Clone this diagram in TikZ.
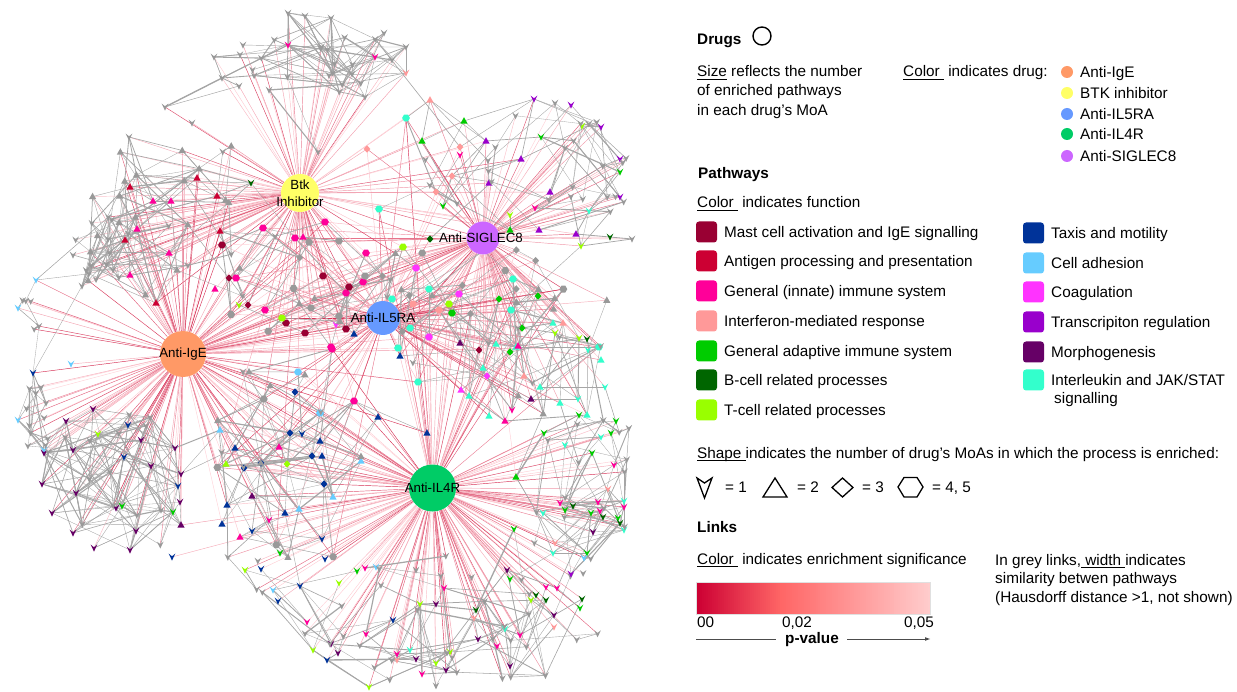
\documentclass[tikz,border=0pt]{standalone}
\usepackage{fontspec}
\setmainfont{Liberation Sans}
\definecolor{mst}{HTML}{990033}
\definecolor{ant}{HTML}{CC0033}
\definecolor{inn}{HTML}{FF0099}
\definecolor{ifn}{HTML}{FF9999}
\definecolor{adp}{HTML}{00CC00}
\definecolor{bce}{HTML}{006600}
\definecolor{tce}{HTML}{99FF00}
\definecolor{tax}{HTML}{003399}
\definecolor{adh}{HTML}{66CCFF}
\definecolor{coa}{HTML}{FF33FF}
\definecolor{trn}{HTML}{9900CC}
\definecolor{mor}{HTML}{660066}
\definecolor{il}{HTML}{33FFCC}
\definecolor{gry}{HTML}{999999}
\definecolor{cIgE}{HTML}{FF9966}
\definecolor{cBtk}{HTML}{FFFF66}
\definecolor{cIL5}{HTML}{6699FF}
\definecolor{cIL4}{HTML}{00CC66}
\definecolor{cSIG}{HTML}{CC66FF}
\definecolor{lkd}{HTML}{D42A50}
\definecolor{lkl}{HTML}{FFD2D8}
\definecolor{gbar}{HTML}{CC0033}
\definecolor{gmid}{HTML}{FF6666}
\definecolor{glight}{HTML}{FFCCCC}
\definecolor{glink}{HTML}{A6A6A6}
\newcount\pcount
\def\kv{1}\def\kt{2}\def\kd{3}\def\kh{4}
\newcommand\ul[1]{\setbox0=\hbox{#1}\rlap{\rule[-2.6pt]{\wd0}{0.75pt}}\box0\relax}
\newcommand\addpath[5]{%
  \global\advance\pcount by 1\relax
  \node[pnode] (#1\the\pcount) at (#2,#3) {};%
  \expandafter\xdef\csname k@#1\the\pcount\endcsname{\csname k#4\endcsname}%
  \expandafter\xdef\csname s@#1\the\pcount\endcsname{#4}%
  \expandafter\xdef\csname c@#1\the\pcount\endcsname{#5}}
\newcommand\addlist[2]{%
  \foreach \px/\py/\psh/\pco in {#2}{\edef\tmp{\noexpand\addpath{#1}{\px}{\py}{\psh}{\pco}}\tmp}}
\newcommand\addgreys[7]{%
  \foreach \g in {1,...,#2}{%
    \pgfmathsetmacro\gx{#3+(#4-#3)*rnd}%
    \pgfmathsetmacro\gy{#5+(#6-#5)*rnd}%
    \pgfmathrandomitem{\gs}{#7}%
    \edef\tmp{\noexpand\addpath{#1}{\gx}{\gy}{\gs}{gry}}\tmp}}
\newcommand\opencl{\global\pcount=0\relax}
\newcommand\closecl[1]{\expandafter\xdef\csname n@#1\endcsname{\the\pcount}}
\newcommand\redlinks[2]{%
  \edef\nn{\csname n@#1\endcsname}%
  \foreach \i in {1,...,\nn}{%
    \edef\kk{\csname k@#1\i\endcsname}%
    \foreach \dr [count=\m] in {#2}{%
      \ifnum\m>\kk\relax\else
        \pgfmathtruncatemacro\pp{100*rnd^1.5}%
        \draw[redlink,draw=lkd!\pp!lkl] (\dr) -- (#1\i);%
      \fi}}}
\newcommand\greylinks[4]{%
  \edef\na{\csname n@#1\endcsname}\edef\nb{\csname n@#2\endcsname}%
  \foreach \e in {1,...,#3}{%
    \pgfmathtruncatemacro\ra{random(1,\na)}%
    \pgfmathtruncatemacro\rb{random(1,\nb)}%
    \pgfpointdiff{\pgfpointanchor{#1\ra}{center}}{\pgfpointanchor{#2\rb}{center}}%
    \pgfgetlastxy{\dx}{\dy}%
    \pgfmathsetmacro\dd{veclen(\dx,\dy)}%
    \ifdim\dd pt<#4pt\relax\ifdim\dd pt>2pt\relax
      \pgfmathsetmacro\ww{0.3+1.1*rnd*rnd}%
      \draw[greylink,line width=\ww pt] (#1\ra) -- (#2\rb);%
    \fi\fi}}
\newcommand\drawsyms[1]{%
  \edef\nn{\csname n@#1\endcsname}%
  \foreach \i in {1,...,\nn}{%
    \edef\tmp{\noexpand\pic at (#1\i) {s\csname s@#1\i\endcsname=\csname c@#1\i\endcsname};}\tmp}}
\pgfmathdeclarerandomlist{vonly}{{v}}
\pgfmathdeclarerandomlist{tv}{{t}{t}{v}}
\pgfmathdeclarerandomlist{mix}{{h}{d}{t}{v}}
\pgfmathdeclarerandomlist{mixb}{{t}{v}{v}{h}}
\begin{document}
\begin{tikzpicture}[x=1pt,y=-1pt,
  pnode/.style={circle,inner sep=0pt,outer sep=0pt,minimum size=0pt},
  redlink/.style={line width=0.45pt},
  greylink/.style={draw=glink},
  drug/.style={circle,draw=none,inner sep=0pt},
  dlabel/.style={font=\fontsize{13.3}{16.5}\selectfont,inner sep=0pt,align=center},
  leg/.style={anchor=base west,inner sep=0pt,font=\fontsize{15.3}{19}\selectfont},
  legc/.style={leg,anchor=base},
  sq/.style={draw=none,minimum size=21pt,inner sep=0pt,rounded corners=3pt},
  dot/.style={circle,draw=none,minimum size=12pt,inner sep=0pt},
  lshape/.style={line width=1.3pt,line join=miter},
  pics/sv/.style={code={\fill[#1] (-3.3,-3.3) -- (0,-0.8) -- (3.3,-3.3) -- (0,3.6) -- cycle;}},
  pics/st/.style={code={\fill[#1] (0,-3.8) -- (3.6,2.6) -- (-3.6,2.6) -- cycle;}},
  pics/sd/.style={code={\fill[#1] (0,-3.7) -- (3.4,0) -- (0,3.7) -- (-3.4,0) -- cycle;}},
  pics/sh/.style={code={\fill[#1] (-3.9,0) -- (-1.95,-3.4) -- (1.95,-3.4) -- (3.9,0) -- (1.95,3.4) -- (-1.95,3.4) -- cycle;}}]
\useasboundingbox (0,0) rectangle (1237,692);
\pgfmathsetseed{11}
% ---------------- drug anchors ----------------
\node[drug,minimum size=46pt] (IgE) at (183,354) {};
\node[drug,minimum size=38pt] (Btk) at (300,193) {};
\node[drug,minimum size=34pt] (IL5) at (383,318) {};
\node[drug,minimum size=47pt] (IL4) at (432.5,488) {};
\node[drug,minimum size=33pt] (SIG) at (483,238) {};
% ---------------- pathway clusters ----------------
\opencl
\addlist{A}{288/13/v/gry,305/16/v/gry,331/18/v/gry,384/33/v/gry,406/47/v/gry,214/57/v/gry,222/78/v/gry,239/86/v/gry,269/90/v/gry,365/97/v/gry,392/60/v/gry,288/45/v/inn,375/57/v/inn,406/73/v/ifn,165/107/v/gry,192/123/v/gry,318/152/v/gry}
\addgreys{A}{20}{232}{395}{35}{95}{vonly}
\closecl{A}
\opencl
\addlist{B}{130/187/t/ant,197/178/t/ant,217/196/t/ant,220/231/t/ant,125/240/t/ant,156/303/t/ant,153/201/t/inn,171/201/t/inn,137/229/t/inn,169/253/t/inn,130/275/t/inn,215/289/t/inn,251/183/v/bce,129/137/v/gry,73/255/v/gry,82/286/v/gry}
\addgreys{B}{30}{88}{245}{145}{300}{tv}
\addgreys{B}{8}{75}{120}{200}{300}{vonly}
\closecl{B}
\opencl
\addlist{C}{367/149/d/ifn,460/147/d/ifn,452/176/d/ifn,436/192/d/ifn,430/100/t/ifn,406/118/h/il,379/209/h/il,464/121/t/adp,422/141/t/adp,510/230/t/adp,486/141/t/trn,521/159/t/trn,489/183/t/trn,550/192/t/trn,539/230/t/trn,576/234/t/trn,534/99/v/trn,571/105/v/trn,601/127/v/trn,620/159/v/trn,620/197/v/trn,541/137/v/adp,620/172/v/adp,443/206/v/adp,582/126/v/tce,510/215/v/tce,581/246/v/tce,589/211/v/il,460/155/v/inn,535/208/v/inn,610/237/v/bce,430/239/d/bce,632/239/v/gry,555/103/v/gry}
\addgreys{C}{16}{545}{630}{110}{235}{vonly}
\addgreys{C}{8}{420}{540}{100}{225}{vonly}
\closecl{C}
\opencl
\addlist{D}{263/228/h/inn,325/222/h/inn,295/238/h/inn,366/253/h/inn,363/282/h/inn,346/293/h/inn,236/278/h/inn,265/310/h/inn,331/347/h/inn,222/245/h/mst,229/278/d/mst,248/305/d/mst,323/276/h/mst,349/287/h/mst,286/323/h/mst,305/333/h/mst,346/329/h/mst,339/241/h/gry,365/276/h/gry,311/308/h/gry,339/316/h/gry,282/318/h/tce,403/247/h/tce,239/305/v/tce,336/325/v/coa,354/334/t/tax,303/237/t/inn}
\addgreys{D}{14}{230}{400}{225}{345}{mix}
\closecl{D}
\opencl
\addlist{E}{392/299/h/il,429/289/h/il,410/328/h/il,513/279/h/il,511/310/h/il,599/347/h/il,398/348/h/il,418/382/h/il,499/299/d/adp,538/296/d/adp,522/328/d/adp,510/352/d/adp,452/313/h/adp,449/304/h/tce,416/268/h/coa,459/294/h/coa,429/337/h/coa,487/376/d/coa,461/390/t/coa,413/304/h/ifn,439/310/h/ifn,579/338/v/tce,555/333/v/tce,587/339/v/bce,516/347/t/il,553/323/t/il,496/344/t/il,483/368/t/il,469/396/t/il,540/387/t/il,489/416/t/il,587/415/t/il,601/360/t/il,560/403/t/il,563/323/t/ifn,524/376/t/ifn,460/343/t/mor,531/399/t/mor,479/350/d/mst,518/346/t/inn,505/421/t/inn,512/410/v/inn,400/356/t/tax,588/350/v/il,605/387/v/il,578/399/v/il}
\addgreys{E}{26}{400}{610}{250}{425}{mix}
\closecl{E}
\opencl
\addlist{F}{18/420/v/adh,44/450/v/adh,71/364/v/adh,36/280/v/adh,18/308/v/adh,33/373/v/tax}
\addgreys{F}{16}{20}{48}{300}{450}{vonly}
\closecl{F}
\opencl
\addlist{G}{93/409/v/mor,66/421/v/mor,141/440/v/mor,175/448/v/mor,44/453/v/mor,73/450/v/mor,151/466/v/mor,42/484/v/mor,76/493/v/mor,52/513/v/mor,116/508/v/mor,73/533/v/mor,94/548/v/mor,130/550/v/mor,136/531/v/mor,181/474/v/mor,180/502/v/mor,181/525/t/mor,128/425/v/tax,124/457/v/tax,178/486/v/tax,98/434/v/tce,122/506/v/adp,173/512/v/adp}
\addgreys{G}{14}{45}{180}{410}{545}{vonly}
\closecl{G}
\opencl
\addlist{H}{220/430/t/adh,361/461/t/adh,333/497/t/adh,299/509/t/adh,235/448/t/tax,320/441/t/tax,322/456/t/tax,227/505/t/tax,222/524/t/tax,285/513/t/tax,378/417/t/tax,427/433/t/tax,295/392/d/tax,290/433/d/tax,312/456/d/tax,244/468/d/tax,261/463/d/tax,324/484/d/tax,226/464/t/tce,287/464/d/tce,279/447/t/inn,240/537/t/inn,269/520/v/inn,252/496/t/mor,298/372/h/adh,320/413/h/adh,332/349/h/inn,354/401/h/inn,302/434/v/tax,252/531/v/tax,322/539/v/tax,325/559/v/tax,172/557/v/tax}
\addgreys{H}{16}{215}{390}{370}{560}{mixb}
\closecl{H}
\opencl
\addlist{I}{245/570/v/tce,261/569/v/tax,280/553/v/adp,357/571/v/adp,365/568/v/inn,376/567/v/adh,339/583/v/tce,300/586/v/tax,273/590/v/adh,278/601/v/tax,307/622/v/inn,366/634/v/inn,397/654/v/inn,422/674/v/inn,444/588/v/inn,313/650/v/tce,420/604/v/tce,436/663/v/tce,450/652/v/tce,369/687/v/tce,331/644/v/mor,338/653/v/mor,436/604/v/mor,446/670/v/mor,416/659/v/mor,478/639/v/mor,510/666/v/mor,554/615/v/mor,507/570/v/mor,327/660/v/tax,393/620/v/tax,410/650/v/il,505/629/v/il,397/660/v/ifn,554/627/v/ifn,474/618/v/ifn,476/610/v/bce,536/595/v/bce,546/600/v/bce,582/599/v/bce,497/646/v/inn,520/635/v/inn,546/587/v/inn,557/588/v/inn,531/600/v/tce}
\addgreys{I}{12}{250}{600}{555}{600}{vonly}
\addgreys{I}{14}{285}{600}{600}{650}{vonly}
\addgreys{I}{10}{335}{560}{650}{688}{vonly}
\closecl{I}
\opencl
\addlist{J}{579/415/v/adp,544/433/v/adp,611/433/v/adp,616/421/v/adp,592/453/v/adp,565/510/v/adp,591/513/v/adp,618/518/v/adp,514/529/v/adp,587/553/v/adp,510/579/v/adp,580/608/v/adp,516/477/t/adp,565/445/v/il,601/437/v/il,624/501/v/il,543/513/v/il,624/530/v/il,553/553/v/il,614/465/v/inn,598/502/v/inn,624/507/v/inn,560/503/v/inn,600/511/v/inn,573/506/v/bce,603/517/v/bce,620/523/v/bce,593/532/v/mor,584/558/v/adh,571/574/v/trn,608/489/v/ifn,555/543/v/ifn}
\addgreys{J}{16}{505}{638}{420}{600}{vonly}
\closecl{J}
% ---------------- drug-pathway links ----------------
\redlinks{A}{Btk}
\redlinks{B}{Btk,IgE,IL5,SIG}
\redlinks{C}{SIG,Btk,IL5,IL4}
\redlinks{D}{IL5,Btk,IgE,SIG,IL4}
\redlinks{E}{SIG,IL5,IL4,IgE,Btk}
\redlinks{F}{IgE}
\redlinks{G}{IgE,IL4}
\redlinks{H}{IL4,IgE,IL5,Btk}
\redlinks{I}{IL4}
\redlinks{J}{IL4,SIG}
% ---------------- pathway-pathway links ----------------
\greylinks{A}{A}{170}{90}
\greylinks{B}{B}{260}{90}
\greylinks{C}{C}{220}{90}
\greylinks{D}{D}{120}{80}
\greylinks{E}{E}{260}{90}
\greylinks{F}{F}{70}{60}
\greylinks{G}{G}{220}{100}
\greylinks{H}{H}{220}{100}
\greylinks{I}{I}{340}{90}
\greylinks{J}{J}{180}{80}
\greylinks{A}{B}{30}{110}
\greylinks{B}{D}{50}{90}
\greylinks{D}{E}{40}{90}
\greylinks{C}{E}{60}{100}
\greylinks{E}{J}{40}{100}
\greylinks{H}{I}{40}{90}
\greylinks{G}{H}{25}{100}
\greylinks{F}{G}{30}{90}
\greylinks{F}{B}{20}{100}
\greylinks{H}{D}{40}{100}
\greylinks{I}{J}{40}{90}
\greylinks{E}{H}{30}{100}
\greylinks{C}{A}{15}{150}
% ---------------- pathway symbols ----------------
\drawsyms{A}\drawsyms{B}\drawsyms{C}\drawsyms{D}\drawsyms{E}
\drawsyms{F}\drawsyms{G}\drawsyms{H}\drawsyms{I}\drawsyms{J}
% ---------------- drug discs ----------------
\node[drug,fill=cIgE,minimum size=46pt] (IgEf) at (IgE) {};
\node[drug,fill=cBtk,minimum size=38pt] (Btkf) at (Btk) {};
\node[drug,fill=cIL5,minimum size=34pt] (IL5f) at (IL5) {};
\node[drug,fill=cIL4,minimum size=47pt] (IL4f) at (IL4) {};
\node[drug,fill=cSIG,minimum size=33pt] (SIGf) at (SIG) {};
\node[dlabel] (IgEt) at (IgE.center) {Anti-IgE};
\node[dlabel] (Btkt) at (Btk.center) {Btk\\Inhibitor};
\node[dlabel] (IL5t) at (IL5.center) {Anti-IL5RA};
\node[dlabel] (IL4t) at (IL4.center) {Anti-IL4R};
\node[dlabel] (SIGt) at (481,238) {Anti-SIGLEC8};
% ---------------- legend: drugs ----------------
\node[leg] (lgDrugs) at (697,45) {\bfseries Drugs};
\node[circle,draw,line width=1.4pt,minimum size=18pt,inner sep=0pt] (lgCirc) at (762,36) {};
\node[leg] (lgS1) at (697,77) {\ul{Size} reflects the number};
\node[leg] (lgS2) at (697,96) {of enriched pathways};
\node[leg] (lgS3) at (697,116) {in each drug’s MoA};
\node[leg] (lgCd) at (903,77) {\ul{Color\ }\ indicates drug:};
\foreach \yy/\cc/\tt [count=\k] in {72/cIgE/Anti-IgE,93/cBtk/BTK inhibitor,114/cIL5/Anti-IL5RA,134/cIL4/Anti-IL4R,156/cSIG/Anti-SIGLEC8}{
  \node[dot,fill=\cc] (lgd\k) at (1067,\yy) {};
  \node[leg] (lgdt\k) at (1080,\yy+5.5) {\tt};
}
% ---------------- legend: pathways ----------------
\node[leg] (lgPath) at (698,179) {\bfseries Pathways};
\node[leg] (lgCf) at (697,208) {\ul{Color\ }\ indicates function};
\foreach \yy/\cc/\tt [count=\k] in {232/mst/Mast cell activation and IgE signalling,261/ant/Antigen processing and presentation,291/inn/General (innate) immune system,321/ifn/Interferon-mediated response,351/adp/General adaptive immune system,380/bce/B-cell related processes,410/tce/T-cell related processes}{
  \node[sq,fill=\cc] (lgq\k) at (706.5,\yy) {};
  \node[leg] (lgqt\k) at (724,\yy+5.5) {\tt};
}
\foreach \yy/\cc/\tt [count=\k] in {233/tax/Taxis and motility,263/adh/Cell adhesion,292/coa/Coagulation,322/trn/Transcripiton regulation,352/mor/Morphogenesis}{
  \node[sq,fill=\cc] (lgr\k) at (1033.5,\yy) {};
  \node[leg] (lgrt\k) at (1051,\yy+5.5) {\tt};
}
\node[sq,fill=il] (lgr6) at (1033.5,380) {};
\node[leg] (lgrt6) at (1051,386) {Interleukin and JAK/STAT};
\node[leg] (lgrt7) at (1054,404) {signalling};
% ---------------- legend: shapes ----------------
\node[leg] (lgSh) at (697,458) {\ul{Shape\ }indicates the number of drug’s MoAs in which the process is enriched:};
\draw[lshape] (697,478) -- (704.5,483) -- (712,478) -- (704.5,498) -- cycle;
\node[leg] (lgs1) at (725,492.5) {= 1};
\draw[lshape] (763,497) -- (775,478) -- (787,497) -- cycle;
\node[leg] (lgs2) at (797,492.5) {= 2};
\draw[lshape] (832,487.5) -- (842.5,478) -- (853,487.5) -- (842.5,497) -- cycle;
\node[leg] (lgs3) at (862,492.5) {= 3};
\draw[lshape] (898,487) -- (904,477.5) -- (917,477.5) -- (923,487) -- (917,497) -- (904,497) -- cycle;
\node[leg] (lgs4) at (932,492.5) {= 4, 5};
% ---------------- legend: links ----------------
\node[leg] (lgLinks) at (697,532) {\bfseries Links};
\node[leg] (lgCe) at (697,564) {\ul{Color\ }\ indicates enrichment significance};
\node[leg] (lgG1) at (995,565) {In grey links,\ul{\ width\ }indicates};
\node[leg] (lgG2) at (995,583) {similarity betwen pathways};
\node[leg] (lgG3) at (995,602) {(Hausdorff distance >1, not shown)};
\foreach \q in {0,...,116}{
  \pgfmathsetmacro\xq{696+2*\q}
  \pgfmathtruncatemacro\ta{min(100,\q*100/42)}
  \pgfmathtruncatemacro\tb{max(0,(\q-42)*100/74)}
  \ifnum\q<43\relax
    \fill[gmid!\ta!gbar] (\xq,582) rectangle (\xq+2.2,614);
  \else
    \fill[glight!\tb!gmid] (\xq,582) rectangle (\xq+2.2,614);
  \fi
}
\draw[black!12,line width=0.6pt] (696,582) rectangle (930,614);
\node[leg] (lgv0) at (697,627) {00};
\node[legc] (lgv1) at (797,627) {0,02};
\node[leg,anchor=base east] (lgv2) at (934,627) {0,05};
\node[legc] (lgpv) at (812,643) {\bfseries p-value};
\coordinate (pa1) at (696,639);
\coordinate (pa2) at (776,639);
\coordinate (pb1) at (847,639);
\coordinate (pb2) at (925,639);
\draw[black!70,line width=0.8pt] (pa1) -- (pa2);
\draw[black!70,line width=0.8pt] (pb1) -- (pb2);
\fill[black!70] (pb2) ++(0,-1.8) -- ++(5,1.8) -- ++(-5,1.8) -- cycle;
\end{tikzpicture}
\end{document}
